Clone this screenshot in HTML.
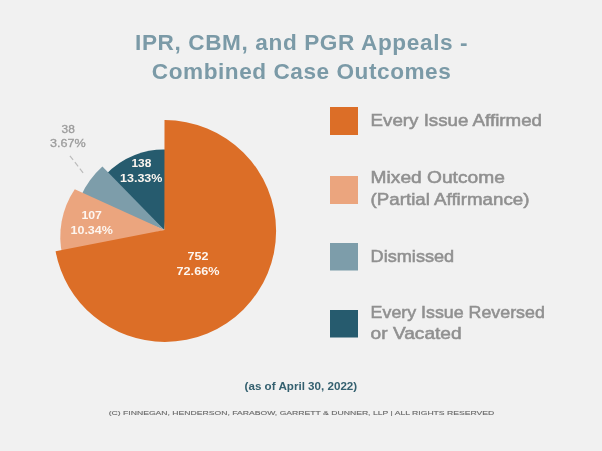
<!DOCTYPE html>
<html>
<head>
<meta charset="utf-8">
<title>IPR, CBM, and PGR Appeals - Combined Case Outcomes</title>
<style>
html,body{margin:0;padding:0;background:#f1f1f1;}
body{width:602px;height:451px;overflow:hidden;position:relative;font-family:"Liberation Sans",sans-serif;}
svg{position:absolute;left:0;top:0;display:block;filter:blur(0.45px);}
text{font-family:"Liberation Sans",sans-serif;}
.t{font-weight:bold;fill:#7b9aa7;font-size:22.6px;text-anchor:middle;}
.lg{font-weight:normal;fill:#909090;stroke:#909090;stroke-width:0.55px;font-size:17px;}
.w{font-weight:bold;fill:#fdf6f0;font-size:11px;text-anchor:middle;}
.g{fill:#9c9c9c;stroke:#9c9c9c;stroke-width:0.3px;font-size:11px;text-anchor:middle;}
.d{font-weight:bold;fill:#34606f;font-size:10.5px;text-anchor:middle;}
.f{fill:#6a6a6a;stroke:#6a6a6a;stroke-width:0.12px;font-size:6px;text-anchor:middle;}
</style>
</head>
<body>
<svg width="602" height="451" viewBox="0 0 602 451">
<rect width="602" height="451" fill="#f1f1f1"/>
<!-- title -->
<text class="t" x="301.3" y="49.9" textLength="332.6" lengthAdjust="spacing">IPR, CBM, and PGR Appeals -</text>
<text class="t" x="301.3" y="78.9" textLength="299" lengthAdjust="spacing">Combined Case Outcomes</text>

<!-- pie -->
<!-- dark teal -->
<path d="M164.4 229.9 L170.1 149.8 A80 80 0 0 0 105.3 175.0 Z" fill="#265b6e"/>
<!-- gray blue -->
<path d="M164.4 229.9 L102.4 166.6 A89 89 0 0 0 80.8 196.2 Z" fill="#7d9daa"/>
<!-- light orange -->
<path d="M164.4 229.9 L74.8 189.2 A85 85 0 0 0 62.5 256 Z" fill="#eba57e"/>
<!-- orange -->
<path d="M164.4 229.9 L164.50 120.10 A111.2 110.9 0 0 1 276.10 231.00 A111.2 110.9 0 0 1 164.90 341.90 A111.2 110.9 0 0 1 55.58 251.32 Z" fill="#dc6e27"/>

<!-- dashed leader -->
<line x1="69.9" y1="155.8" x2="83.2" y2="172.9" stroke="#bcbcbc" stroke-width="1.2" stroke-dasharray="5.3 2.8"/>

<!-- pie labels -->
<text class="g" x="68.2" y="132.5" textLength="13.3" lengthAdjust="spacingAndGlyphs">38</text>
<text class="g" x="67.9" y="147.4" textLength="35.7" lengthAdjust="spacingAndGlyphs">3.67%</text>
<text class="w" x="141.4" y="167.2" textLength="19.9" lengthAdjust="spacingAndGlyphs">138</text>
<text class="w" x="141.2" y="182.1" textLength="42.4" lengthAdjust="spacingAndGlyphs">13.33%</text>
<text class="w" x="91.7" y="219" textLength="20.4" lengthAdjust="spacingAndGlyphs">107</text>
<text class="w" x="91.7" y="233.9" textLength="42.4" lengthAdjust="spacingAndGlyphs">10.34%</text>
<text class="w" x="198" y="260" textLength="20.9" lengthAdjust="spacingAndGlyphs">752</text>
<text class="w" x="198" y="275" textLength="42.9" lengthAdjust="spacingAndGlyphs">72.66%</text>

<!-- legend -->
<rect x="330" y="107" width="28" height="28" fill="#dc6e27"/>
<rect x="330" y="176" width="28" height="28" fill="#eba57e"/>
<rect x="330" y="243" width="28" height="27.5" fill="#7d9daa"/>
<rect x="330" y="310" width="28" height="27.5" fill="#265b6e"/>
<text class="lg" x="370.6" y="126.3" textLength="171.4" lengthAdjust="spacingAndGlyphs">Every Issue Affirmed</text>
<text class="lg" x="370.6" y="183.4" textLength="134.2" lengthAdjust="spacingAndGlyphs">Mixed Outcome</text>
<text class="lg" x="370.6" y="205" textLength="158.8" lengthAdjust="spacingAndGlyphs">(Partial Affirmance)</text>
<text class="lg" x="370.6" y="261.7" textLength="83.6" lengthAdjust="spacingAndGlyphs">Dismissed</text>
<text class="lg" x="370.6" y="318" textLength="174.2" lengthAdjust="spacingAndGlyphs">Every Issue Reversed</text>
<text class="lg" x="370.6" y="339.3" textLength="91" lengthAdjust="spacingAndGlyphs">or Vacated</text>

<!-- footer -->
<text class="d" x="300.9" y="389.9" textLength="112.6" lengthAdjust="spacingAndGlyphs">(as of April 30, 2022)</text>
<text class="f" x="301.5" y="415.3" textLength="385.6" lengthAdjust="spacingAndGlyphs">(C) FINNEGAN, HENDERSON, FARABOW, GARRETT &amp; DUNNER, LLP | ALL RIGHTS RESERVED</text>
</svg>
</body>
</html>
